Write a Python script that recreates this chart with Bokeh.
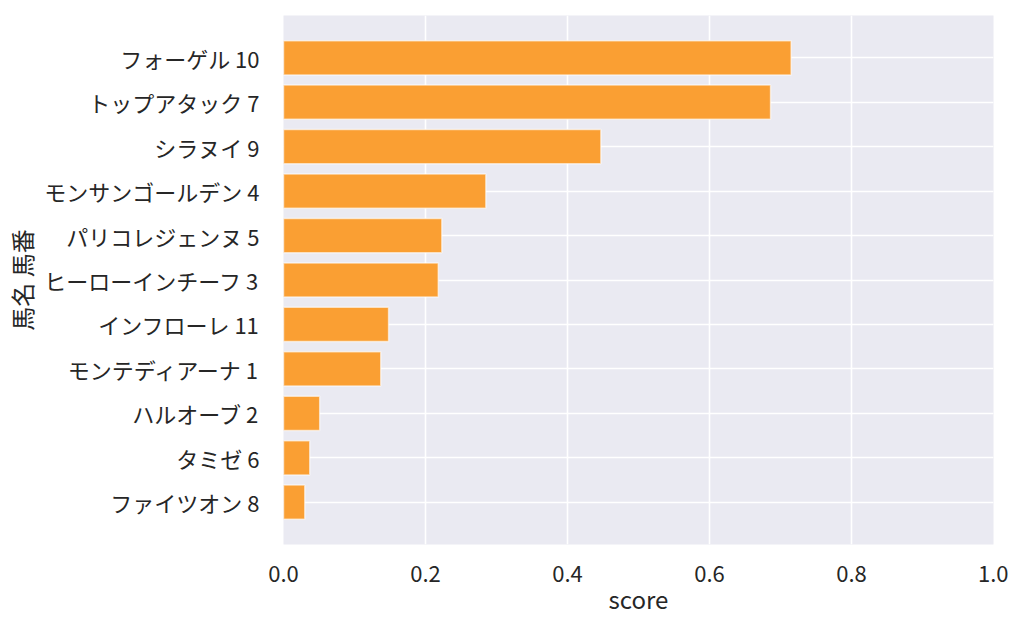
from bokeh.plotting import figure
from bokeh.models import FactorRange, Range1d, FixedTicker, NumeralTickFormatter
from bokeh.embed import file_html
from bokeh.resources import INLINE

horses = ["フォーゲル 10", "トップアタック 7", "シラヌイ 9", "モンサンゴールデン 4",
          "パリコレジェンヌ 5", "ヒーローインチーフ 3", "インフローレ 11",
          "モンテディアーナ 1", "ハルオーブ 2", "タミゼ 6", "ファイツオン 8"]
scores = [0.715, 0.686, 0.447, 0.285, 0.223, 0.218, 0.148, 0.137, 0.051, 0.037, 0.030]
x_ticks = [0.0, 0.2, 0.4, 0.6, 0.8, 1.0]

FONT = "Noto Sans CJK JP"

yr = FactorRange(factors=list(reversed(horses)), range_padding=0.082)
p = figure(width=1008, height=618, y_range=yr, x_range=Range1d(0, 1.0),
           output_backend="svg", toolbar_location=None,
           min_border_left=283, min_border_right=15, min_border_top=15, min_border_bottom=73)

p.hbar(y=horses, right=scores, left=0, height=0.77,
       fill_color="#FA9F33", line_color="white", line_alpha=0.6, line_width=1.5)

p.background_fill_color = "#EAEAF2"
p.border_fill_color = "white"
p.outline_line_color = None

for g in (p.xgrid, p.ygrid):
    g.grid_line_color = "white"
    g.grid_line_width = 1.6

p.xaxis.ticker = FixedTicker(ticks=x_ticks)
p.xaxis.formatter = NumeralTickFormatter(format="0.0")

for ax in (p.xaxis, p.yaxis):
    ax.axis_line_color = None
    ax.major_tick_line_color = None
    ax.minor_tick_line_color = None
    ax.major_label_text_font = FONT
    ax.major_label_text_font_size = "22px"
    ax.major_label_text_color = "#262626"
    ax.axis_label_text_font = FONT
    ax.axis_label_text_font_size = "24px"
    ax.axis_label_text_font_style = "normal"
    ax.axis_label_text_color = "#262626"

p.xaxis.major_label_standoff = 15
p.yaxis.major_label_standoff = 18
p.xaxis.axis_label = "score"
p.yaxis.axis_label = "馬名 馬番"
p.xaxis.axis_label_standoff = -4
p.yaxis.axis_label_standoff = 2

open("out.html", "w").write(file_html(p, INLINE))
